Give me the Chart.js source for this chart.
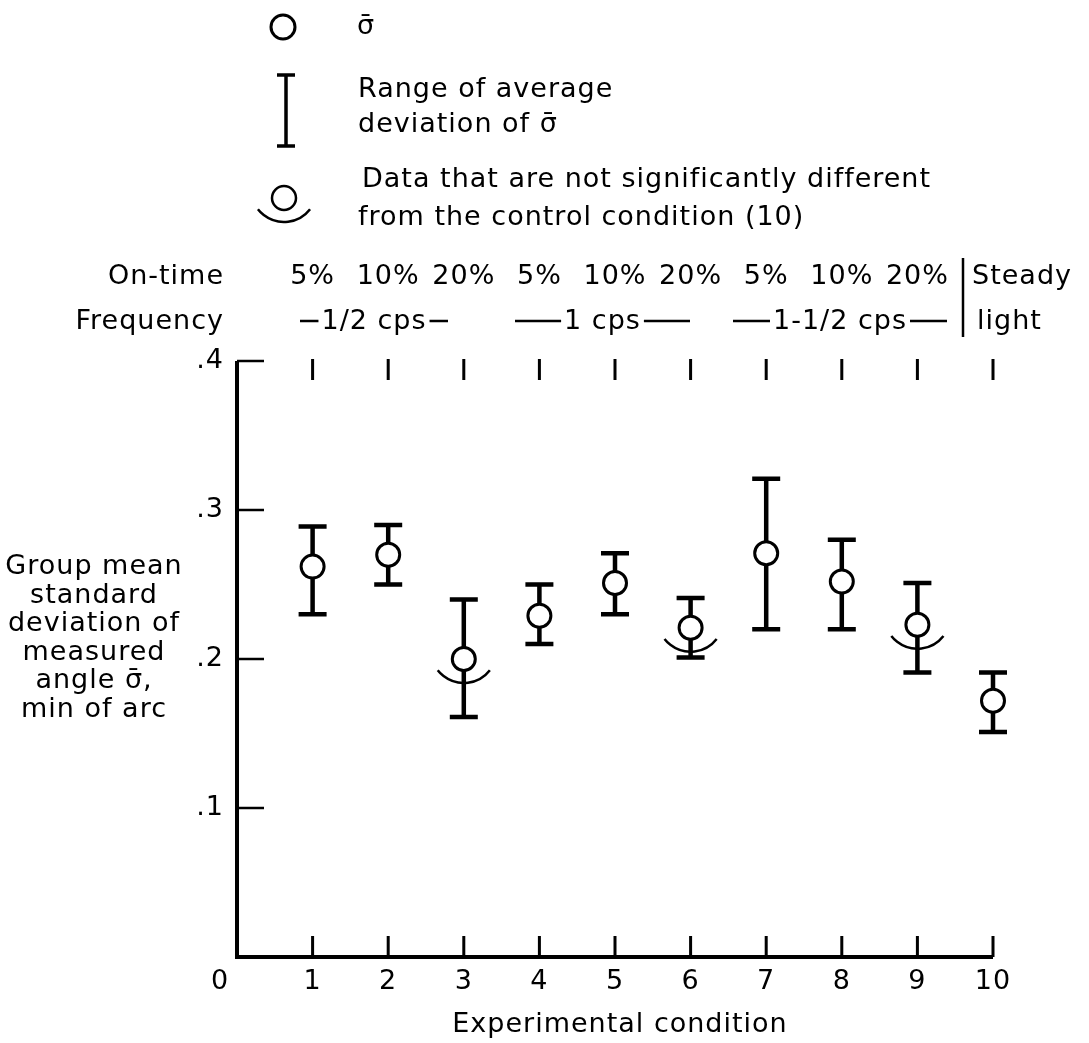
<!DOCTYPE html>
<html lang="en">
<head>
<meta charset="UTF-8">
<title>Group mean standard deviation by experimental condition</title>
<script src="https://cdn.jsdelivr.net/npm/chart.js"></script>
<style>
  body { margin: 0; background: #fff; }
  #wrap { width: 1089px; height: 1043px; position: relative; }
</style>
</head>
<body>
<div id="wrap"><canvas id="chart"></canvas></div>
<script>
// data
const conditions = [1, 2, 3, 4, 5, 6, 7, 8, 9, 10];
const meanSigma = [0.262, 0.270, 0.200, 0.229, 0.251, 0.221, 0.271, 0.252, 0.223, 0.172];
const rangeLow = [0.230, 0.250, 0.161, 0.210, 0.230, 0.201, 0.220, 0.220, 0.191, 0.151];
const rangeHigh = [0.289, 0.290, 0.240, 0.250, 0.271, 0.241, 0.321, 0.280, 0.251, 0.191];
const notSignificant = [false, false, true, false, false, true, false, false, true, false];

const onTimeLabels = ['5%', '10%', '20%', '5%', '10%', '20%', '5%', '10%', '20%'];
const frequencyLabels = ['1/2 cps', '1 cps', '1-1/2 cps'];

const yTicks = [0.1, 0.2, 0.3, 0.4];
const yTickLabels = ['.1', '.2', '.3', '.4'];
const xTickLabels = ['1', '2', '3', '4', '5', '6', '7', '8', '9', '10'];
const yTitleLines = ['Group mean', 'standard', 'deviation of', 'measured', 'angle \u03C3\u0304,', 'min of arc'];

const FONT = '27px "DejaVu Sans"';
const INK = '#000';

// horizontal extent of each frequency bracket (dash ... text ... dash)
const frequencySpans = [[300, 448], [515, 690], [733, 947]];

function label(ctx, s, x, y, align) {
  ctx.textAlign = align || 'center';
  ctx.textBaseline = 'middle';
  ctx.fillText(s, x, y);
}

function smile(ctx, cx, cy) {
  // the "not significantly different" arc below a circle
  ctx.beginPath();
  ctx.arc(cx, cy - 9, 33, 0.66, Math.PI - 0.66);
  ctx.stroke();
}

const figurePlugin = {
  id: 'figure',
  beforeDatasetsDraw(chart) {
    const { ctx, scales: { x, y } } = chart;
    ctx.save();
    ctx.strokeStyle = INK;

    // axes
    ctx.lineWidth = 4;
    ctx.beginPath();
    ctx.moveTo(x.getPixelForValue(0), y.getPixelForValue(0.4));
    ctx.lineTo(x.getPixelForValue(0), y.getPixelForValue(0));
    ctx.lineTo(x.getPixelForValue(10), y.getPixelForValue(0));
    ctx.stroke();

    // inward ticks
    ctx.lineWidth = 2.5;
    yTicks.forEach(v => {
      const py = y.getPixelForValue(v);
      ctx.beginPath();
      ctx.moveTo(x.getPixelForValue(0), py);
      ctx.lineTo(x.getPixelForValue(0) + 27, py);
      ctx.stroke();
    });
    ctx.lineWidth = 3;
    conditions.forEach(c => {
      const px = x.getPixelForValue(c);
      const bot = y.getPixelForValue(0);
      const top = y.getPixelForValue(0.4);
      ctx.beginPath();
      ctx.moveTo(px, bot); ctx.lineTo(px, bot - 21);
      ctx.moveTo(px, top - 2); ctx.lineTo(px, top + 19);
      ctx.stroke();
    });

    // range of average deviation
    ctx.lineWidth = 4.5;
    conditions.forEach((c, i) => {
      const px = x.getPixelForValue(c);
      const hi = y.getPixelForValue(rangeHigh[i]);
      const lo = y.getPixelForValue(rangeLow[i]);
      ctx.beginPath();
      ctx.moveTo(px, hi); ctx.lineTo(px, lo);
      ctx.moveTo(px - 14, hi); ctx.lineTo(px + 14, hi);
      ctx.moveTo(px - 14, lo); ctx.lineTo(px + 14, lo);
      ctx.stroke();
    });

    ctx.lineWidth = 2.5;
    conditions.forEach((c, i) => {
      if (!notSignificant[i]) return;
      smile(ctx, x.getPixelForValue(c), y.getPixelForValue(meanSigma[i]));
    });
    ctx.restore();
  },
  afterDraw(chart) {
    const { ctx, scales: { x, y } } = chart;
    ctx.save();
    ctx.fillStyle = INK;
    ctx.strokeStyle = INK;
    ctx.font = FONT;
    ctx.letterSpacing = '1px';

    // tick labels
    yTicks.forEach((v, i) => label(ctx, yTickLabels[i], 224, y.getPixelForValue(v), 'right'));
    label(ctx, '0', 220, 982);
    conditions.forEach((c, i) => label(ctx, xTickLabels[i], x.getPixelForValue(c), 982));
    label(ctx, 'Experimental condition', 620, 1025);

    // y title
    yTitleLines.forEach((s, i) => label(ctx, s, 94, 567 + i * 28.5));

    // condition headers
    label(ctx, 'On-time', 224, 277, 'right');
    label(ctx, 'Frequency', 224, 322, 'right');
    onTimeLabels.forEach((s, i) => label(ctx, s, x.getPixelForValue(conditions[i]), 277));
    ctx.lineWidth = 2.5;
    frequencyLabels.forEach((s, i) => {
      const [l, r] = frequencySpans[i];
      const mid = (l + r) / 2;
      const w = ctx.measureText(s).width;
      label(ctx, s, mid, 322);
      ctx.beginPath();
      ctx.moveTo(l, 321); ctx.lineTo(mid - w / 2 - 3, 321);
      ctx.moveTo(mid + w / 2 + 3, 321); ctx.lineTo(r, 321);
      ctx.stroke();
    });
    label(ctx, 'Steady', 972, 277, 'left');
    label(ctx, 'light', 977, 322, 'left');
    ctx.beginPath();
    ctx.moveTo(963, 258); ctx.lineTo(963, 337);
    ctx.stroke();

    // key
    ctx.lineWidth = 3;
    ctx.beginPath();
    ctx.arc(283, 27, 12, 0, Math.PI * 2);
    ctx.stroke();
    label(ctx, '\u03C3\u0304', 357, 27, 'left');

    ctx.lineWidth = 3.5;
    ctx.beginPath();
    ctx.moveTo(286, 75); ctx.lineTo(286, 146);
    ctx.moveTo(277, 75); ctx.lineTo(295, 75);
    ctx.moveTo(277, 146); ctx.lineTo(295, 146);
    ctx.stroke();
    label(ctx, 'Range of average', 358, 90, 'left');
    label(ctx, 'deviation of \u03C3\u0304', 358, 125, 'left');

    ctx.lineWidth = 2.5;
    ctx.beginPath();
    ctx.arc(284, 198, 12, 0, Math.PI * 2);
    ctx.stroke();
    smile(ctx, 284, 198);
    label(ctx, 'Data that are not significantly different', 362, 180, 'left');
    label(ctx, 'from the control condition (10)', 358, 218, 'left');
    ctx.restore();
  }
};

new Chart(document.getElementById('chart'), {
  type: 'scatter',
  data: {
    datasets: [
      {
        label: 'sigma',
        data: conditions.map((c, i) => ({ x: c, y: meanSigma[i] })),
        pointRadius: 11.5,
        pointBorderWidth: 3,
        pointBackgroundColor: '#fff',
        pointBorderColor: INK,
        clip: false
      },
      {
        label: 'centre',
        data: conditions.map((c, i) => ({ x: c, y: meanSigma[i] })),
        pointRadius: 1.8,
        pointBorderWidth: 0,
        pointBackgroundColor: INK,
        clip: false
      }
    ]
  },
  options: {
    responsive: true,
    maintainAspectRatio: false,
    animation: false,
    devicePixelRatio: 1,
    layout: { padding: { left: 237, right: 96, top: 361, bottom: 86 } },
    scales: {
      x: { type: 'linear', min: 0, max: 10, display: false },
      y: { type: 'linear', min: 0, max: 0.4, display: false }
    },
    plugins: { legend: { display: false }, tooltip: { enabled: false } }
  },
  plugins: [figurePlugin]
});
</script>
</body>
</html>
